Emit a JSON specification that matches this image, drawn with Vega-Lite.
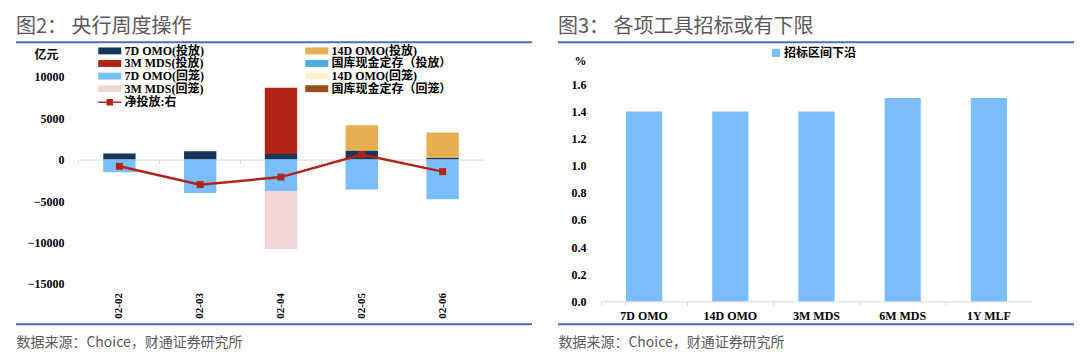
{
  "$schema": "https://vega.github.io/schema/vega-lite/v6.json",
  "background": "white",
  "padding": {"left": 15, "top": 17.3, "right": 0, "bottom": 0},
  "spacing": 24,
  "config": {
    "view": {"stroke": null},
    "font": "Noto Sans CJK SC",
    "title": {"anchor": "start", "frame": "group", "fontSize": 20, "fontWeight": "normal", "color": "#595959", "font": "Noto Sans CJK SC", "offset": 4}
  },
  "resolve": {"scale": {"color": "independent", "fill": "independent"}, "legend": {"color": "independent", "fill": "independent"}},
  "datasets": {
    "flows": [
      {"date": "02-02", "series": "7D OMO(投放)", "value": 730, "ord": 0},
      {"date": "02-02", "series": "7D OMO(回笼)", "value": -1540, "ord": 0},
      {"date": "02-03", "series": "7D OMO(投放)", "value": 1000, "ord": 0},
      {"date": "02-03", "series": "7D OMO(回笼)", "value": -4040, "ord": 0},
      {"date": "02-04", "series": "7D OMO(投放)", "value": 680, "ord": 0},
      {"date": "02-04", "series": "3M MDS(投放)", "value": 8000, "ord": 2},
      {"date": "02-04", "series": "7D OMO(回笼)", "value": -3800, "ord": 0},
      {"date": "02-04", "series": "3M MDS(回笼)", "value": -7000, "ord": 2},
      {"date": "02-05", "series": "7D OMO(投放)", "value": 1090, "ord": 0},
      {"date": "02-05", "series": "14D OMO(投放)", "value": 3060, "ord": 1},
      {"date": "02-05", "series": "7D OMO(回笼)", "value": -3600, "ord": 0},
      {"date": "02-06", "series": "7D OMO(投放)", "value": 240, "ord": 0},
      {"date": "02-06", "series": "14D OMO(投放)", "value": 3030, "ord": 1},
      {"date": "02-06", "series": "7D OMO(回笼)", "value": -4800, "ord": 0}
    ],
    "net": [
      {"date": "02-02", "net": -810, "label": "净投放:右"},
      {"date": "02-03", "net": -3020, "label": "净投放:右"},
      {"date": "02-04", "net": -2110, "label": "净投放:右"},
      {"date": "02-05", "net": 600, "label": "净投放:右"},
      {"date": "02-06", "net": -1450, "label": "净投放:右"}
    ],
    "edgesL": [{"edge": 14170}, {"edge": -19890}],
    "rates": [
      {"tool": "7D OMO", "rate": 1.4, "series": "招标区间下沿"},
      {"tool": "14D OMO", "rate": 1.4, "series": "招标区间下沿"},
      {"tool": "3M MDS", "rate": 1.4, "series": "招标区间下沿"},
      {"tool": "6M MDS", "rate": 1.5, "series": "招标区间下沿"},
      {"tool": "1Y MLF", "rate": 1.5, "series": "招标区间下沿"}
    ],
    "edgesR": [{"edge": 1.9114}, {"edge": -0.1697}]
  },
  "hconcat": [
    {
      "width": 516,
      "height": 282,
      "title": "图2：  央行周度操作",
      "layer": [
        {
          "data": {"name": "flows"},
          "mark": {"type": "bar"},
          "encoding": {
            "x": {
              "field": "date", "type": "nominal", "sort": null,
              "scale": {"range": [63, 467], "paddingInner": 0.6, "paddingOuter": 0.3},
              "axis": {"orient": "bottom", "offset": -39.7, "labelAngle": 270, "labelAlign": "right", "labelBaseline": "middle", "labelFont": "Liberation Serif", "labelFontSize": 11, "labelFontWeight": "bold", "labelColor": "black", "labelPadding": 8, "ticks": false, "domain": false, "grid": false,
                "title": "数据来源：Choice，财通证券研究所", "titleX": 0, "titleY": 58.4, "titleAlign": "left", "titleBaseline": "middle", "titleAngle": 0, "titleFont": "Noto Sans CJK SC", "titleFontSize": 14, "titleFontWeight": "normal", "titleColor": "#595959"}
            },
            "y": {
              "field": "value", "type": "quantitative", "stack": "zero", "title": "亿元",
              "scale": {"domain": [-19890, 14170], "nice": false, "zero": false},
              "axis": {"offset": -63, "values": [-15000, -10000, -5000, 0, 5000, 10000], "tickCount": 10, "format": "d", "labelOverlap": false, "titleAngle": 0, "titleX": -33, "titleY": 12, "titleAlign": "center", "titleBaseline": "middle", "titleFont": "Liberation Serif, Noto Sans CJK SC", "titleFontSize": 12, "titleFontWeight": "bold", "titleColor": "black", "labelFont": "Liberation Serif", "labelFontSize": 12, "labelFontWeight": "bold", "labelColor": "black", "labelPadding": 15, "ticks": false, "domain": false, "grid": false}
            },
            "color": {
              "field": "series", "type": "nominal",
              "scale": {
                "domain": ["7D OMO(投放)", "3M MDS(投放)", "7D OMO(回笼)", "3M MDS(回笼)", "14D OMO(投放)", "国库现金定存（投放）", "14D OMO(回笼)", "国库现金定存（回笼）"],
                "range": ["#16365C", "#B22418", "#7ABEF9", "#F2D5D5", "#E6AF50", "#4DABE8", "#FFF2CC", "#9C4F1E"]
              },
              "legend": {"orient": "none", "legendX": 87.75, "legendY": 2.6, "columns": 2, "columnPadding": 100, "rowPadding": 0.6, "padding": 0, "title": null, "symbolType": "M-2,-0.6H2V0.6H-2Z", "symbolSize": 132.25, "symbolStrokeWidth": 0, "labelOffset": 8.75, "labelFont": "Liberation Serif, Noto Sans CJK SC", "labelFontSize": 12, "labelFontWeight": "bold", "labelColor": "black"}
            },
            "order": {"field": "ord", "type": "quantitative"}
          }
        },
        {
          "data": {"name": "edgesL"},
          "mark": {"type": "rule", "color": "#4A6FB5", "strokeWidth": 2, "opacity": 1},
          "encoding": {
            "y": {"field": "edge", "type": "quantitative", "title": "亿元"},
            "x": {"value": 0},
            "x2": {"value": "width"}
          }
        },
        {
          "data": {"name": "net"},
          "mark": {"type": "line", "color": "#B22418", "strokeWidth": 2.5},
          "encoding": {
            "x": {"field": "date", "type": "nominal", "sort": null, "axis": {"orient": "bottom", "offset": -164.7, "labels": false, "ticks": true, "tickSize": 4, "tickColor": "#D9D9D9", "domain": true, "domainColor": "#D9D9D9", "bandPosition": -0.75, "tickExtra": true, "title": null, "grid": false}},
            "y": {"field": "net", "type": "quantitative", "title": "亿元"}
          }
        },
        {
          "data": {"name": "net"},
          "mark": {"type": "point", "filled": true, "shape": "square", "size": 49, "opacity": 1},
          "encoding": {
            "x": {"field": "date", "type": "nominal", "sort": null, "axis": null},
            "y": {"field": "net", "type": "quantitative", "title": "亿元"},
            "fill": {
              "field": "label", "type": "nominal",
              "scale": {"domain": ["净投放:右"], "range": ["#B22418"]},
              "legend": {"orient": "none", "legendX": 87.75, "legendY": 54, "padding": 0, "title": null, "symbolType": "M-2,-0.14H2V0.14H-2Z M-0.56,-0.56H0.56V0.56H-0.56Z", "symbolSize": 132.25, "symbolStrokeWidth": 0, "labelOffset": 8.75, "labelFont": "Liberation Serif, Noto Sans CJK SC", "labelFontSize": 12, "labelFontWeight": "bold", "labelColor": "black"}
            }
          }
        }
      ],
      "resolve": {"axis": {"x": "independent"}}
    },
    {
      "width": 516,
      "height": 282,
      "title": "图3：  各项工具招标或有下限",
      "layer": [
        {
          "data": {"name": "rates"},
          "mark": {"type": "bar"},
          "encoding": {
            "x": {
              "field": "tool", "type": "nominal", "sort": null,
              "scale": {"range": [43, 474], "paddingInner": 0.58, "paddingOuter": 0.29},
              "axis": {"orient": "bottom", "offset": -23, "labelAngle": 0, "labelFont": "Liberation Serif", "labelFontSize": 12, "labelFontWeight": "bold", "labelColor": "black", "labelPadding": 5, "tickSize": 4, "tickColor": "#D9D9D9", "domainColor": "#D9D9D9", "bandPosition": -0.69, "tickExtra": true, "grid": false,
                "title": "数据来源：Choice，财通证券研究所", "titleX": 0, "titleY": 41.7, "titleAlign": "left", "titleBaseline": "middle", "titleAngle": 0, "titleFont": "Noto Sans CJK SC", "titleFontSize": 14, "titleFontWeight": "normal", "titleColor": "#595959"}
            },
            "y": {
              "field": "rate", "type": "quantitative", "title": "%",
              "scale": {"domain": [-0.1697, 1.9114], "nice": false, "zero": false},
              "axis": {"offset": -43, "values": [0, 0.2, 0.4, 0.6, 0.8, 1.0, 1.2, 1.4, 1.6], "format": ".1f", "labelOverlap": false, "tickCount": 12, "titleAngle": 0, "titleX": -21, "titleY": 18, "titleAlign": "center", "titleBaseline": "middle", "titleFont": "Liberation Serif", "titleFontSize": 12, "titleFontWeight": "bold", "titleColor": "black", "labelFont": "Liberation Serif", "labelFontSize": 12, "labelFontWeight": "bold", "labelColor": "black", "labelPadding": 15, "ticks": false, "domain": false, "grid": false}
            },
            "color": {
              "field": "series", "type": "nominal",
              "scale": {"domain": ["招标区间下沿"], "range": ["#7ABEF9"]},
              "legend": {"orient": "none", "legendX": 212, "legendY": 4.6, "padding": 0, "title": null, "symbolType": "square", "symbolSize": 64, "symbolStrokeWidth": 0, "labelOffset": 2, "labelFont": "Noto Sans CJK SC", "labelFontSize": 12, "labelFontWeight": "bold", "labelColor": "black"}
            }
          }
        },
        {
          "data": {"name": "edgesR"},
          "mark": {"type": "rule", "color": "#4A6FB5", "strokeWidth": 2, "opacity": 1},
          "encoding": {
            "y": {"field": "edge", "type": "quantitative", "title": "%"},
            "x": {"value": 0},
            "x2": {"value": "width"}
          }
        }
      ]
    }
  ]
}
